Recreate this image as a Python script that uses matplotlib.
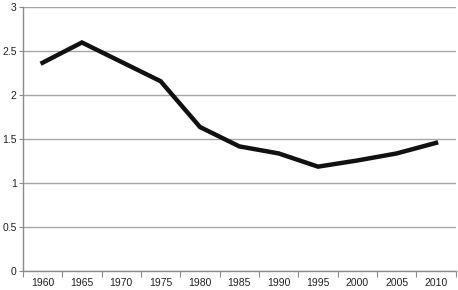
import matplotlib.pyplot as plt
import numpy as np

# Data
years = ['1960', '1965', '1970', '1975', '1980', '1985', '1990', '1995', '2000', '2005', '2010']
values = [2.37, 2.60, 2.38, 2.16, 1.64, 1.42, 1.34, 1.19, 1.26, 1.34, 1.46]
y_ticks = [0, 0.5, 1, 1.5, 2, 2.5, 3]
y_labels = ['0', '0.5', '1', '1.5', '2', '2.5', '3']

plt.rcParams['font.family'] = ['Liberation Sans', 'DejaVu Sans']

fig = plt.figure(figsize=(4.58, 2.9), dpi=100)
ax = fig.add_axes([0.05, 0.064, 0.945, 0.911])

x = np.arange(len(years))
ax.plot(x, values, color='#111111', linewidth=3.2, solid_joinstyle='miter', zorder=3)

# Axes limits and ticks
ax.set_xlim(-0.5, len(years) - 0.5)
ax.set_ylim(0, 3)
ax.set_xticks(np.arange(-0.5, len(years)), labels=[''] * (len(years) + 1))
ax.set_xticks(x, labels=years, minor=True)
ax.tick_params(axis='x', which='major', length=4, color='#8c8c8c', width=0.8)
ax.tick_params(axis='x', which='minor', length=0, labelsize=7.5, pad=5, labelcolor='#222222')
ax.set_yticks(y_ticks, labels=y_labels)
ax.tick_params(axis='y', length=3, color='#8c8c8c', width=0.8, labelsize=7.5, pad=1.5, labelcolor='#222222')

# Grid and spines
ax.grid(axis='y', color='#a6a6a6', linewidth=1.0)
ax.set_axisbelow(True)
for side in ['top', 'right']:
    ax.spines[side].set_visible(False)
for side in ['left', 'bottom']:
    ax.spines[side].set_color('#8c8c8c')
    ax.spines[side].set_linewidth(1.0)

fig.savefig('out.png', dpi=100)
